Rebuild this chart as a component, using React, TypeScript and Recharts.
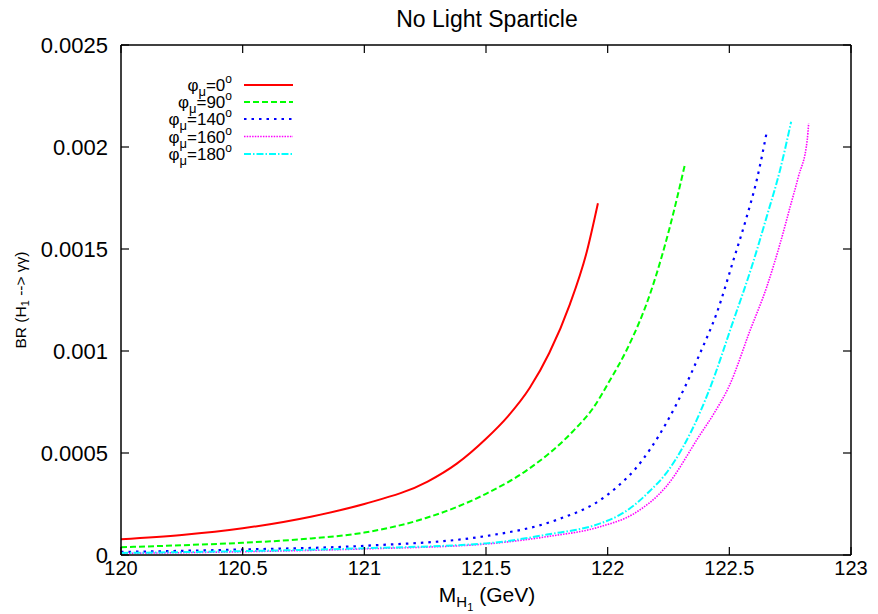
import { LineChart, Line, XAxis, YAxis } from "recharts";

// x = M_H1 (GeV), y = BR(H1 -> gamma gamma)
const mass_phi0 = [120.0, 120.25, 120.5, 120.78, 121.0, 121.26, 121.38, 121.5, 121.59, 121.68, 121.76, 121.845, 121.915, 121.96];
const br_phi0 = [0.000077, 0.000098, 0.000131, 0.000188, 0.00025, 0.00036, 0.000448, 0.00057, 0.00068, 0.00082, 0.00099, 0.00123, 0.00149, 0.001724];

const mass_phi90 = [120.0, 120.25, 120.5, 120.75, 121.0, 121.25, 121.5, 121.67, 121.86, 121.94, 122.01, 122.078, 122.18, 122.256, 122.318];
const br_phi90 = [0.000038, 0.000048, 0.00006, 0.000078, 0.00011, 0.00018, 0.0003, 0.000417, 0.00061, 0.00072, 0.000858, 0.001005, 0.0013, 0.00161, 0.001917];

const mass_phi140 = [120.0, 120.5, 121.0, 121.5, 121.79, 121.97, 122.04, 122.11, 122.24, 122.32, 122.38, 122.448, 122.517, 122.572, 122.613, 122.654];
const br_phi140 = [0.000015, 0.000027, 0.000045, 0.000093, 0.000172, 0.00027, 0.000335, 0.000417, 0.000645, 0.00083, 0.00099, 0.001185, 0.001446, 0.00166, 0.00184, 0.002075];

const mass_phi160 = [120.0, 120.5, 121.0, 121.5, 121.75, 121.97, 122.11, 122.24, 122.38, 122.44, 122.5, 122.585, 122.654, 122.709, 122.75, 122.784, 122.82, 122.826];
const br_phi160 = [0.000008, 0.000016, 0.00003, 0.000054, 0.00009, 0.000139, 0.000204, 0.000335, 0.00059, 0.0007, 0.00083, 0.0011, 0.001315, 0.001528, 0.001707, 0.001855, 0.002034, 0.002116];

const mass_phi180 = [120.0, 120.5, 121.0, 121.5, 121.75, 121.97, 122.04, 122.11, 122.17, 122.24, 122.31, 122.38, 122.421, 122.517, 122.592, 122.654, 122.709, 122.754];
const br_phi180 = [0.00001, 0.000019, 0.000033, 0.000057, 0.0001, 0.000155, 0.00019, 0.000245, 0.00031, 0.0004, 0.00053, 0.0007, 0.00082, 0.00115, 0.001413, 0.00166, 0.00189, 0.002124];

const phases = ["0", "90", "140", "160", "180"];
const xTicks = [120, 120.5, 121, 121.5, 122, 122.5, 123];
const yTicks = [0, 0.0005, 0.001, 0.0015, 0.002, 0.0025];
const yTickLabels = ["0", "0.0005", "0.001", "0.0015", "0.002", "0.0025"];

const FONT = "'Liberation Sans', Arial, sans-serif";

const zip = (xs: number[], ys: number[]) => xs.map((m, i) => ({ m, br: ys[i] }));

const series = [
  { data: zip(mass_phi0, br_phi0), color: "#ff0000", dash: undefined, width: 2 },
  { data: zip(mass_phi90, br_phi90), color: "#00ff00", dash: "6 3", width: 2 },
  { data: zip(mass_phi140, br_phi140), color: "#0000ff", dash: "2.5 5", width: 2.2 },
  { data: zip(mass_phi160, br_phi160), color: "#ff00ff", dash: "1.5 1.2", width: 1.6 },
  { data: zip(mass_phi180, br_phi180), color: "#00ffff", dash: "7 2 1.5 2", width: 2 },
];

const TICK = 8;

function BottomTick(props: any) {
  const { x, y, payload } = props;
  return (
    <g>
      <line x1={x} y1={y} x2={x} y2={y - TICK} stroke="#000" strokeWidth={1.2} />
      <text x={x} y={y + 20} textAnchor="middle" fontSize={20} fontFamily={FONT} fill="#000">
        {payload.value}
      </text>
    </g>
  );
}

function TopTick(props: any) {
  const { x, y } = props;
  return <line x1={x} y1={y} x2={x} y2={y + TICK} stroke="#000" strokeWidth={1.2} />;
}

function LeftTick(props: any) {
  const { x, y, payload } = props;
  const idx = yTicks.indexOf(payload.value);
  return (
    <g>
      <line x1={x} y1={y} x2={x + TICK} y2={y} stroke="#000" strokeWidth={1.2} />
      <text x={x - 13} y={y + 8} textAnchor="end" fontSize={22} fontFamily={FONT} fill="#000">
        {idx >= 0 ? yTickLabels[idx] : payload.value}
      </text>
    </g>
  );
}

function RightTick(props: any) {
  const { x, y } = props;
  return <line x1={x} y1={y} x2={x - TICK} y2={y} stroke="#000" strokeWidth={1.2} />;
}

function Overlay() {
  const legendY = [85, 102, 119, 136.5, 154];
  return (
    <svg
      width={878}
      height={614}
      style={{ position: "absolute", left: 0, top: 0, pointerEvents: "none" }}
      fontFamily={FONT}
    >
      <text x={487} y={27} textAnchor="middle" fontSize={23} fill="#000">
        No Light Sparticle
      </text>

      <text x={487} y={602} textAnchor="middle" fontSize={21} fill="#000">
        M
        <tspan fontSize={15} dy={5}>H</tspan>
        <tspan fontSize={11} dy={4}>1</tspan>
        <tspan fontSize={21} dy={-9}> (GeV)</tspan>
      </text>

      <text transform="translate(26,300) rotate(-90)" textAnchor="middle" fontSize={15.5} fill="#000">
        BR (H
        <tspan fontSize={11} dy={3}>1</tspan>
        <tspan fontSize={15.5} dy={-3}> --&gt; γγ)</tspan>
      </text>

      {phases.map((p, i) => {
        const s = series[i];
        const y = legendY[i];
        return (
          <g key={p}>
            <text x={232} y={y + 6} textAnchor="end" fontSize={17} fill="#000">
              φ
              <tspan fontSize={13} dy={5}>μ</tspan>
              <tspan fontSize={17} dy={-5}>={p}</tspan>
              <tspan fontSize={12} dy={-8}>o</tspan>
            </text>
            <line
              x1={244}
              x2={293}
              y1={y}
              y2={y}
              stroke={s.color}
              strokeWidth={s.width}
              strokeDasharray={s.dash}
            />
          </g>
        );
      })}
    </svg>
  );
}

export default function App() {
  return (
    <div style={{ position: "absolute", left: 0, top: 0, width: 878, height: 614, background: "#fff" }}>
      <LineChart width={878} height={614} margin={{ top: 40, right: 22, bottom: 0, left: 0 }}>
        <XAxis
          xAxisId="b"
          type="number"
          dataKey="m"
          domain={[120, 123]}
          ticks={xTicks}
          interval={0}
          allowDataOverflow
          height={59}
          tickSize={0}
          tickMargin={0}
          tickLine={false}
          axisLine={{ stroke: "#000", strokeWidth: 1.5 }}
          tick={<BottomTick />}
        />
        <XAxis
          xAxisId="t"
          orientation="top"
          type="number"
          dataKey="m"
          domain={[120, 123]}
          ticks={xTicks}
          interval={0}
          allowDataOverflow
          height={5}
          tickSize={0}
          tickMargin={0}
          tickLine={false}
          axisLine={{ stroke: "#000", strokeWidth: 1.5 }}
          tick={<TopTick />}
        />
        <YAxis
          yAxisId="l"
          type="number"
          domain={[0, 0.0025]}
          ticks={yTicks}
          interval={0}
          allowDataOverflow
          width={121}
          tickSize={0}
          tickMargin={0}
          tickLine={false}
          axisLine={{ stroke: "#000", strokeWidth: 1.5 }}
          tick={<LeftTick />}
        />
        <YAxis
          yAxisId="r"
          orientation="right"
          type="number"
          domain={[0, 0.0025]}
          ticks={yTicks}
          interval={0}
          allowDataOverflow
          width={5}
          tickSize={0}
          tickMargin={0}
          tickLine={false}
          axisLine={{ stroke: "#000", strokeWidth: 1.5 }}
          tick={<RightTick />}
        />
        {series.map((s, i) => (
          <Line
            key={phases[i]}
            xAxisId="b"
            yAxisId="l"
            data={s.data}
            dataKey="br"
            type="monotone"
            stroke={s.color}
            strokeWidth={s.width}
            strokeDasharray={s.dash}
            dot={false}
            activeDot={false}
            isAnimationActive={false}
          />
        ))}
      </LineChart>
      <Overlay />
    </div>
  );
}
